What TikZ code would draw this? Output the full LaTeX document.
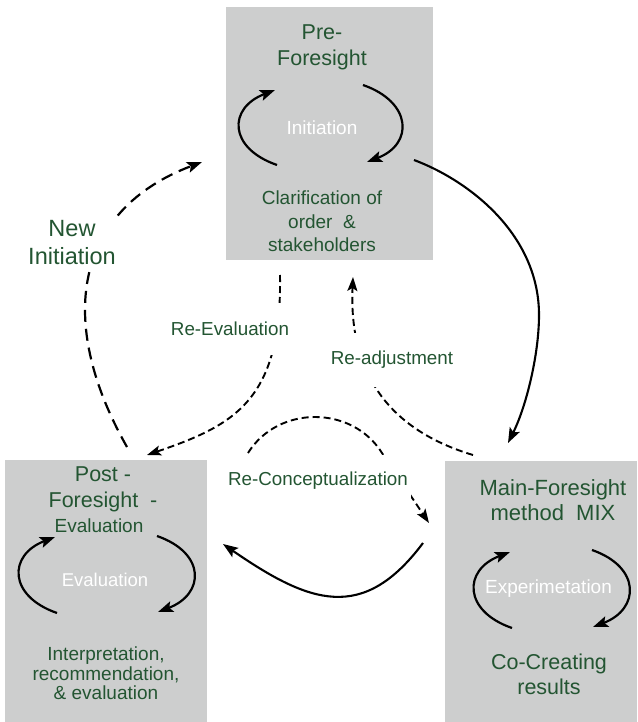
\documentclass[tikz,border=0pt]{standalone}
\usepackage{fontspec}
\setmainfont{Liberation Sans}
\usetikzlibrary{arrows.meta}
\definecolor{boxgray}{RGB}{205,206,206}
\definecolor{txtgreen}{RGB}{35,85,50}
\begin{document}
\begin{tikzpicture}[x=1pt,y=-1pt,
  phase/.style={fill=boxgray, draw=none, inner sep=0pt, anchor=north west},
  ttl/.style={text=txtgreen, align=center, inner sep=0pt, font=\fontsize{21.5}{26}\selectfont},
  body/.style={text=txtgreen, align=center, inner sep=0pt, font=\fontsize{19}{23.5}\selectfont},
  inner/.style={text=white, inner sep=0pt, font=\fontsize{19}{23}\selectfont},
  lbl/.style={text=txtgreen, fill=white, align=center, inner xsep=3pt, font=\fontsize{18.8}{23}\selectfont},
  tip/.style={-{Stealth[length=15pt,width=11pt,inset=3pt]}},
  loopline/.style={line width=2.2pt, tip},
  mainline/.style={line width=2.1pt, tip},
  newdash/.style={line width=2.2pt, dash pattern=on 12pt off 7pt, tip},
  redash/.style={line width=1.9pt, dash pattern=on 7pt off 4pt, -{Stealth[length=14pt,width=10pt,inset=3pt]}}
]
\useasboundingbox (0,0) rectangle (637,722);

% phase boxes
\node[phase, minimum width=207pt, minimum height=253pt] (pre) at (226,7) {};
\node[phase, minimum width=202pt, minimum height=262pt] (post) at (5,460) {};
\node[phase, minimum width=192pt, minimum height=261pt] (mainbox) at (445,461) {};

% texts in pre box
\node[ttl] (pretitle) at (322,47.3) {Pre-\\Foresight};
\node[inner] (preinit) at (322,128) {Initiation};
\node[body] (preclar) at (322,221.5) {Clarification of\\order~~\&\\stakeholders};

% texts in post box
\node[ttl] (posttitle) at (103,489) {Post -\\Foresight~~-};
\node[body] (postsub) at (99,526) {Evaluation};
\node[inner, font=\fontsize{18.5}{22}\selectfont] (posteval) at (105,580) {Evaluation};
\node[body, font=\fontsize{19}{19.5}\selectfont] (postinterp) at (106,673.5) {Interpretation,\\recommendation,\\\& evaluation};

% texts in main box
\node[ttl, font=\fontsize{22}{25}\selectfont] (maintitle) at (553,500.5) {Main-Foresight\\method~~MIX};
\node[inner] (mainexp) at (548.5,589) {Experimetation};
\node[ttl, font=\fontsize{21.5}{25}\selectfont] (maincoc) at (549,674.5) {Co-Creating\\results};

% connector end points
\coordinate (preA0) at (277,165); \coordinate (preA1) at (275,90);
\coordinate (preB0) at (363,85);  \coordinate (preB1) at (367,162);
\coordinate (postA0) at (57,613); \coordinate (postA1) at (55,537);
\coordinate (postB0) at (157,536); \coordinate (postB1) at (158,612);
\coordinate (mainA0) at (512,628); \coordinate (mainA1) at (510,552);
\coordinate (mainB0) at (592,550); \coordinate (mainB1) at (593,627);
\coordinate (preOut) at (414,160); \coordinate (mainIn) at (508,443);
\coordinate (postOut) at (127,447); \coordinate (preIn) at (202,162);
\coordinate (preBot) at (280,275); \coordinate (postIn) at (147,455);
\coordinate (mainTop) at (473,455); \coordinate (preBotR) at (353,277);
\coordinate (rcA) at (248,453); \coordinate (rcB) at (382,453); \coordinate (mainInL) at (429,523);
\coordinate (mainOutL) at (423,543); \coordinate (postInR) at (223,544);

% inner loops
\draw[loopline] (preA0) .. controls (228,148) and (228,108) .. (preA1);
\draw[loopline] (preB0) .. controls (412,102) and (414,144) .. (preB1);
\draw[loopline] (postA0) .. controls (8,596) and (8,555) .. (postA1);
\draw[loopline] (postB0) .. controls (206,553) and (205,594) .. (postB1);
\draw[loopline] (mainA0) .. controls (463,611) and (463,570) .. (mainA1);
\draw[loopline] (mainB0) .. controls (641,567) and (640,609) .. (mainB1);

% main solid flow
\draw[mainline] (preOut) .. controls (470,181) and (539,235) .. (539,315) .. controls (539,355) and (526,407) .. (mainIn);
\draw[mainline] (mainOutL) .. controls (363,623) and (310,604) .. (postInR);

% dashed feedback
\draw[newdash] (postOut) .. controls (55,320) and (75,210) .. (preIn);
\draw[redash] (preBot) .. controls (282,400) and (235,425) .. (postIn);
\draw[redash] (mainTop) .. controls (383,428) and (349,367) .. (preBotR);
\draw[redash] (rcA) .. controls (278,405) and (352,405) .. (rcB) -- (mainInL);

% labels
\node[lbl, inner xsep=4pt, inner ysep=3pt, font=\fontsize{23.5}{28}\selectfont] (newinit) at (72,243) {New\\Initiation};
\node[lbl, inner ysep=19pt] (reeval) at (230,329) {Re-Evaluation};
\node[lbl, inner ysep=18pt] (readj) at (392,360) {Re-adjustment};
\node[lbl, inner ysep=17pt] (reconc) at (318,481) {Re-Conceptualization};
\end{tikzpicture}
\end{document}
